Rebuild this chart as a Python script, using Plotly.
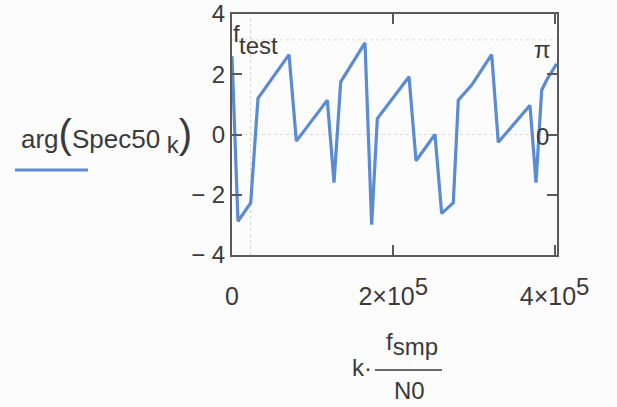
import math
import plotly.graph_objects as go

# ---- data ----
freq = [0, 7400, 23200, 32200, 70700, 79800, 118200, 126500, 134800,
        164900, 173200, 180200, 219500, 228200, 251700, 260000, 274400,
        280600, 297200, 322000, 330200, 369500, 377000, 384000, 390200, 402500]
phase = [2.6, -2.88, -2.27, 1.20, 2.65, -0.22, 1.14, -1.60, 1.75,
         3.04, -2.99, 0.53, 1.92, -0.87, 0.00, -2.62, -2.27,
         1.14, 1.64, 2.65, -0.26, 0.97, -1.60, 1.47, 1.81, 2.35]
f_test = 23000
y_markers = [math.pi, 0.0]
y_marker_labels = ["π", "0"]
x_tickvals = [0, 200000, 400000]
x_ticktext = ["0",
              "2×10<sup><span style='font-size:24px'>5</span></sup>",
              "4×10<sup><span style='font-size:24px'>5</span></sup>"]
y_tickvals = [-4, -2, 0, 2, 4]
y_ticktext = ["− 4", "− 2", "0", "2", "4"]

FONT = "Liberation Sans, Arial, sans-serif"
TXT = "#3a3a3a"
LINE = "#5b8bd2"
AX = "#5a5a5a"

W, H = 617, 407
X0, X1, Y0, Y1 = 232, 557, 14, 255


def px(x):
    return (x - X0) / (X1 - X0)


def py(y):
    return (Y1 - y) / (Y1 - Y0)


fig = go.Figure()
fig.add_trace(go.Scatter(x=freq, y=phase, mode="lines",
                         line=dict(color=LINE, width=3.2),
                         showlegend=False, cliponaxis=True))

# marker lines
fig.add_shape(type="line", xref="x", yref="paper", x0=f_test, x1=f_test,
              y0=0, y1=1, line=dict(color="#d6d0d0", width=1, dash="dot"),
              layer="below")
for v in y_markers:
    fig.add_shape(type="line", xref="paper", yref="y", x0=0, x1=1, y0=v, y1=v,
                  line=dict(color="#e0d8d4", width=1, dash="dot"), layer="below")

ann = []
# marker labels
ann.append(dict(text="f", x=px(231), y=py(33), xanchor="left", yanchor="middle"))
ann.append(dict(text="test", x=px(237), y=py(45), xanchor="left", yanchor="middle"))
ann.append(dict(text=y_marker_labels[0], x=px(542), y=y_markers[0], yref="y",
                xanchor="center", yanchor="top", yshift=6))
ann.append(dict(text=y_marker_labels[1], x=px(542), y=y_markers[1], yref="y",
                xanchor="center", yanchor="middle", yshift=-2))

# legend text
ann.append(dict(text="arg<span style='font-size:40px'>(</span>Spec50<sub><span style='font-size:24px'> k</span></sub><span style='font-size:40px'>)</span>",
                x=px(19), y=py(135), xanchor="left", yanchor="middle", size=26))

# x-axis title as a fraction
ann.append(dict(text="k·", x=px(362), y=py(367), xanchor="center", yanchor="middle"))
ann.append(dict(text="f<sub><span style='font-size:24px'>smp</span></sub>",
                x=px(412), y=py(344), xanchor="center", yanchor="middle"))
ann.append(dict(text="N0", x=px(409), y=py(390), xanchor="center", yanchor="middle"))

for a in ann:
    s = a.pop("size", 24)
    a.setdefault("xref", "paper")
    a.setdefault("yref", "paper")
    a["showarrow"] = False
    a["font"] = dict(family=FONT, size=s, color=TXT)
fig.update_layout(annotations=ann)

# fraction bar and legend sample line
fig.add_shape(type="line", xref="paper", yref="paper", x0=px(375), x1=px(442),
              y0=py(370), y1=py(370), line=dict(color=TXT, width=1.5))
fig.add_shape(type="line", xref="paper", yref="paper", x0=px(15), x1=px(88),
              y0=py(170), y1=py(170), line=dict(color=LINE, width=3))

fig.update_xaxes(range=[0, 403000], tickvals=x_tickvals, ticktext=x_ticktext,
                 ticks="inside", ticklen=10, tickwidth=1.5, tickcolor=AX,
                 showline=True, linecolor=AX, linewidth=2, mirror="ticks",
                 showgrid=False, zeroline=False, ticklabelstandoff=18,
                 automargin=False,
                 tickfont=dict(family=FONT, size=25, color=TXT))
fig.update_yaxes(range=[-4, 4], tickvals=y_tickvals, ticktext=y_ticktext,
                 ticks="inside", ticklen=10, tickwidth=1.5, tickcolor=AX,
                 showline=True, linecolor=AX, linewidth=2, mirror="ticks",
                 showgrid=False, zeroline=False, ticklabelstandoff=0,
                 automargin=False,
                 tickfont=dict(family=FONT, size=24, color=TXT))

fig.update_layout(width=W, height=H,
                  margin=dict(l=X0, r=W - X1, t=Y0, b=H - Y1, pad=0, autoexpand=False),
                  paper_bgcolor="#fcfcfc", plot_bgcolor="#fcfcfc",
                  font=dict(family=FONT, size=24, color=TXT))

fig.write_html("out.html")
